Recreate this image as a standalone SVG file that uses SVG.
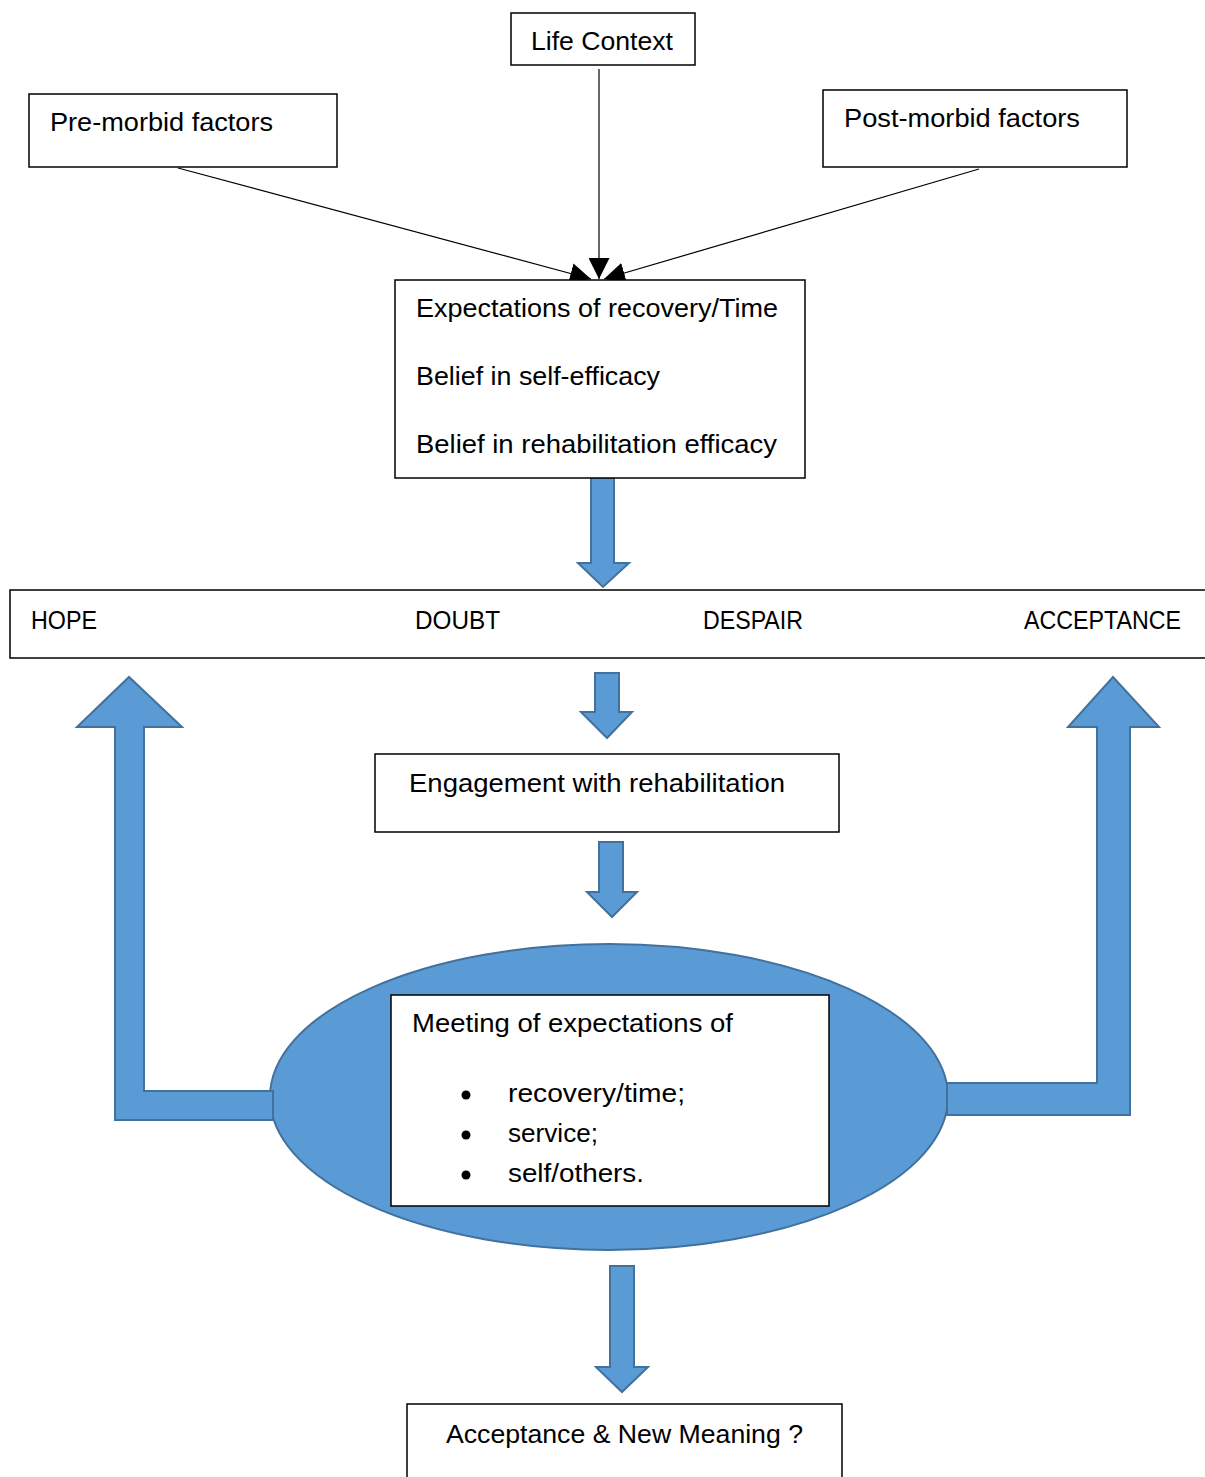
<svg xmlns="http://www.w3.org/2000/svg" width="1205" height="1477" viewBox="0 0 1205 1477">
  <style>
    .box { fill: #ffffff; stroke: #000000; stroke-width: 1.5; }
    .blk { fill: #5B9BD5; stroke: #41719C; stroke-width: 2; stroke-linejoin: miter; }
    .lbl { font-family: "Liberation Sans", Arial, sans-serif; font-size: 25px; fill: #000000; }
    .line { stroke: #000000; stroke-width: 1.2; fill: none; }
  </style>
  <defs>
    <marker id="tri" viewBox="0 0 10 10" refX="10" refY="5" markerWidth="21" markerHeight="21" markerUnits="userSpaceOnUse" orient="auto">
      <path d="M0,0 L10,5 L0,10 z" fill="#000000"/>
    </marker>
  </defs>

  <!-- thin connectors feeding the expectations box -->
  <g id="connectors">
    <line class="line" x1="178" y1="168" x2="591" y2="279" marker-end="url(#tri)"/>
    <line class="line" x1="599" y1="69" x2="599" y2="279" marker-end="url(#tri)"/>
    <line class="line" x1="979" y1="169" x2="604" y2="279" marker-end="url(#tri)"/>
    <!-- block arrows -->
    <path class="blk" d="M591,478 L614,478 L614,563 L629,563 L603,587 L578,563 L591,563 Z"/>
    <path class="blk" d="M595,673 L619,673 L619,712 L632,712 L607,738 L581,712 L595,712 Z"/>
    <path class="blk" d="M599,842 L623,842 L623,892 L637,892 L612,917 L587,892 L599,892 Z"/>
    <path class="blk" d="M610,1266 L634,1266 L634,1367 L648,1367 L622,1392 L596,1367 L610,1367 Z"/>
  </g>

  <g id="life-context">
    <rect class="box" x="511" y="13" width="184" height="52"/>
    <text class="lbl" x="531" y="50" textLength="142" lengthAdjust="spacingAndGlyphs">Life Context</text>
  </g>

  <g id="pre-morbid">
    <rect class="box" x="29" y="94" width="308" height="73"/>
    <text class="lbl" x="50" y="131" textLength="223" lengthAdjust="spacingAndGlyphs">Pre-morbid factors</text>
  </g>

  <g id="post-morbid">
    <rect class="box" x="823" y="90" width="304" height="77"/>
    <text class="lbl" x="844" y="127" textLength="236" lengthAdjust="spacingAndGlyphs">Post-morbid factors</text>
  </g>

  <g id="expectations">
    <rect class="box" x="395" y="280" width="410" height="198"/>
    <text class="lbl" x="416" y="317" textLength="362" lengthAdjust="spacingAndGlyphs">Expectations of recovery/Time</text>
    <text class="lbl" x="416" y="385" textLength="244" lengthAdjust="spacingAndGlyphs">Belief in self-efficacy</text>
    <text class="lbl" x="416" y="453" textLength="361" lengthAdjust="spacingAndGlyphs">Belief in rehabilitation efficacy</text>
  </g>

  <g id="states">
    <rect class="box" x="10" y="590" width="1200" height="68"/>
    <text class="lbl" x="31" y="629" textLength="66" lengthAdjust="spacingAndGlyphs">HOPE</text>
    <text class="lbl" x="415" y="629" textLength="85" lengthAdjust="spacingAndGlyphs">DOUBT</text>
    <text class="lbl" x="703" y="629" textLength="100" lengthAdjust="spacingAndGlyphs">DESPAIR</text>
    <text class="lbl" x="1024" y="629" textLength="157" lengthAdjust="spacingAndGlyphs">ACCEPTANCE</text>
  </g>

  <g id="engagement">
    <rect class="box" x="375" y="754" width="464" height="78"/>
    <text class="lbl" x="409" y="792" textLength="376" lengthAdjust="spacingAndGlyphs">Engagement with rehabilitation</text>
  </g>

  <g id="meeting">
    <ellipse class="blk" cx="609" cy="1097" rx="339" ry="153"/>
    <!-- return arrows leaving the ellipse sides -->
    <path class="blk" d="M273,1091 L144,1091 L144,727 L182,727 L129,677 L77,727 L115,727 L115,1120 L273,1120 Z"/>
    <path class="blk" d="M947,1083 L1097,1083 L1097,727 L1068,727 L1113,677 L1159,727 L1130,727 L1130,1115 L947,1115 Z"/>
    <rect class="box" x="391" y="995" width="438" height="211" stroke-width="2"/>
    <text class="lbl" x="412" y="1032" textLength="321" lengthAdjust="spacingAndGlyphs">Meeting of expectations of</text>
    <circle cx="466" cy="1095" r="4.5" fill="#000000"/>
    <circle cx="466" cy="1135" r="4.5" fill="#000000"/>
    <circle cx="466" cy="1175" r="4.5" fill="#000000"/>
    <text class="lbl" x="508" y="1102" textLength="177" lengthAdjust="spacingAndGlyphs">recovery/time;</text>
    <text class="lbl" x="508" y="1142" textLength="90" lengthAdjust="spacingAndGlyphs">service;</text>
    <text class="lbl" x="508" y="1182" textLength="136" lengthAdjust="spacingAndGlyphs">self/others.</text>
  </g>

  <g id="acceptance">
    <rect class="box" x="407" y="1404" width="435" height="90" stroke-width="2"/>
    <text class="lbl" x="446" y="1443" textLength="357" lengthAdjust="spacingAndGlyphs">Acceptance &amp; New Meaning ?</text>
  </g>
</svg>
